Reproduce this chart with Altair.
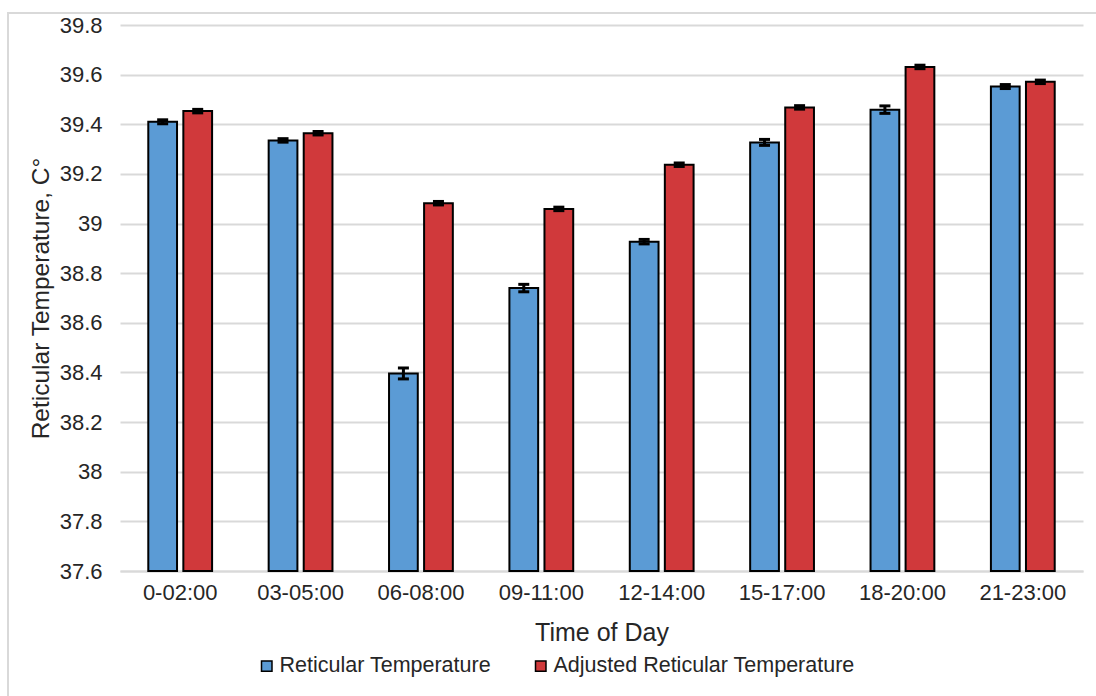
import altair as alt
import pandas as pd

categories = ["0-02:00", "03-05:00", "06-08:00", "09-11:00", "12-14:00", "15-17:00", "18-20:00", "21-23:00"]
series_names = ["Reticular Temperature", "Adjusted Reticular Temperature"]
reticular = [39.410, 39.335, 38.396, 38.740, 38.927, 39.327, 39.459, 39.552]
adjusted = [39.453, 39.364, 39.082, 39.059, 39.237, 39.468, 39.631, 39.571]
reticular_err = [0.008, 0.007, 0.022, 0.015, 0.009, 0.012, 0.015, 0.008]
adjusted_err = [0.007, 0.007, 0.007, 0.007, 0.007, 0.007, 0.007, 0.007]
y_ticks = [37.6, 37.8, 38.0, 38.2, 38.4, 38.6, 38.8, 39.0, 39.2, 39.4, 39.6, 39.8]
colors = ["#5B9BD5", "#D0393B"]

rows = []
for i, c in enumerate(categories):
    rows.append({"cat": c, "series": series_names[0], "value": reticular[i],
                 "lo": reticular[i] - reticular_err[i], "hi": reticular[i] + reticular_err[i]})
    rows.append({"cat": c, "series": series_names[1], "value": adjusted[i],
                 "lo": adjusted[i] - adjusted_err[i], "hi": adjusted[i] + adjusted_err[i]})
df = pd.DataFrame(rows)

FONT = "Liberation Sans"

x_enc = alt.X("cat:N", sort=categories,
              scale=alt.Scale(paddingInner=0.47, paddingOuter=0.235),
              axis=alt.Axis(title="Time of Day", labelAngle=0, labelFontSize=22,
                            labelPadding=11, ticks=False, domainColor="#d9d9d9",
                            domainWidth=2, titleFontSize=25, titleFontWeight="normal",
                            titleY=61, titleBaseline="middle", labelColor="#262626",
                            titleColor="#262626", grid=False))
xoff = alt.XOffset("series:N", sort=series_names, scale=alt.Scale(paddingInner=0.18))
y_scale = alt.Scale(domain=[37.6, 39.8], zero=False, nice=False)

base = alt.Chart(df)

bars = base.mark_bar(stroke="black", strokeWidth=2).encode(
    x=x_enc,
    xOffset=xoff,
    y=alt.Y("value:Q", scale=y_scale,
            axis=alt.Axis(title="Reticular Temperature, C°", values=y_ticks,
                          format="~g", labelFontSize=22, labelPadding=18, ticks=False,
                          domain=False, gridColor="#d9d9d9", gridWidth=2,
                          titleFontSize=24.5, titleFontWeight="normal",
                          titleX=-79, titleY=273, titleAlign="center", titleBaseline="middle",
                          labelColor="#262626", titleColor="#262626")),
    y2=alt.datum(37.6),
    color=alt.Color("series:N", sort=series_names,
                    scale=alt.Scale(domain=series_names, range=colors),
                    legend=alt.Legend(title=None, orient="none", direction="horizontal",
                                      legendX=136, legendY=630, symbolType="square",
                                      symbolSize=110, symbolStrokeColor="black",
                                      symbolStrokeWidth=1.5, labelFontSize=21.5,
                                      labelOffset=2, columnPadding=38, labelLimit=600,
                                      labelColor="#262626", symbolOpacity=1)),
)

err = base.mark_rule(color="black", strokeWidth=3).encode(
    x=alt.X("cat:N", sort=categories),
    xOffset=xoff,
    y=alt.Y("lo:Q", scale=y_scale),
    y2="hi:Q",
)

cap_hi = base.mark_tick(color="black", thickness=3, size=11, opacity=1).encode(
    x=alt.X("cat:N", sort=categories),
    xOffset=xoff,
    y=alt.Y("hi:Q", scale=y_scale),
)
cap_lo = base.mark_tick(color="black", thickness=3, size=11, opacity=1).encode(
    x=alt.X("cat:N", sort=categories),
    xOffset=xoff,
    y=alt.Y("lo:Q", scale=y_scale),
)

frame = alt.Chart(pd.DataFrame({"a": [0]})).mark_rect(
    fill=None, stroke="#d9d9d9", strokeWidth=2
).encode(x=alt.value(-112), x2=alt.value(1100), y=alt.value(-12), y2=alt.value(700))

chart = alt.layer(frame, bars, err, cap_hi, cap_lo).properties(
    width=963, height=546,
    autosize=alt.AutoSizeParams(type="none"),
    padding={"left": 120, "top": 25, "right": 13, "bottom": 125},
).configure(
    font=FONT,
    view=alt.ViewConfig(stroke=None),
    axis=alt.AxisConfig(labelFont=FONT, titleFont=FONT),
    legend=alt.LegendConfig(labelFont=FONT),
)

chart.save("out.html", embed_options={"renderer": "svg", "actions": False})
